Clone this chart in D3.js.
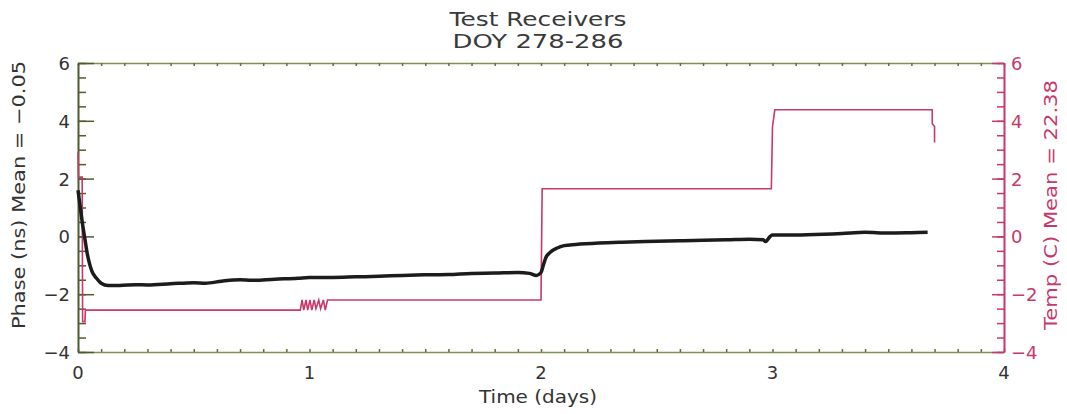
<!DOCTYPE html>
<html>
<head>
<meta charset="utf-8">
<script src="https://cdn.jsdelivr.net/npm/d3@7"></script>
<style>
  html, body { margin: 0; padding: 0; background: #fff; }
  svg { display: block; font-family: 'DejaVu Sans', sans-serif; }
  .title { fill: #3a3a3a; font-size: 19px; }
  .tick-label { font-size: 18px; }
</style>
</head>
<body>
<svg id="chart" width="1067" height="414"></svg>
<script>
// phase (ns), black trace
const phaseTime  = [0.000, 0.005, 0.010, 0.020, 0.030, 0.040, 0.050, 0.060, 0.080, 0.100,
                    0.130, 0.180, 0.250, 0.300, 0.400, 0.500, 0.550, 0.620, 0.700, 0.750,
                    0.850, 0.950, 1.000, 1.100, 1.200, 1.300, 1.400, 1.500, 1.600, 1.700,
                    1.800, 1.900, 1.950, 1.980, 2.000, 2.010, 2.020, 2.040, 2.070, 2.100,
                    2.150, 2.250, 2.350, 2.500, 2.600, 2.700, 2.800, 2.900, 2.960, 2.970,
                    2.990, 3.000, 3.050, 3.150, 3.300, 3.400, 3.500, 3.600, 3.670];
const phaseValue = [1.60, 1.30, 1.00, 0.40, -0.10, -0.60, -0.95, -1.20, -1.45, -1.62,
                    -1.70, -1.70, -1.67, -1.68, -1.64, -1.60, -1.62, -1.55, -1.50, -1.52,
                    -1.48, -1.45, -1.42, -1.42, -1.40, -1.38, -1.35, -1.33, -1.32, -1.28,
                    -1.27, -1.25, -1.28, -1.35, -1.25, -1.00, -0.75, -0.55, -0.40, -0.32,
                    -0.28, -0.23, -0.20, -0.17, -0.15, -0.13, -0.12, -0.10, -0.12, -0.18,
                    0.00, 0.05, 0.05, 0.06, 0.10, 0.14, 0.12, 0.13, 0.14];

// temperature (C, minus mean), crimson trace
const tempTime  = [0.000, 0.002, 0.018, 0.020, 0.030, 0.032, 0.960, 0.968, 0.975, 0.985,
                   0.992, 1.002, 1.010, 1.020, 1.028, 1.040, 1.048, 1.060, 1.068, 1.078,
                   1.090, 2.000, 2.005, 2.995, 3.000, 3.010, 3.690, 3.690, 3.700, 3.700];
const tempValue = [2.90, 2.05, 2.05, -2.95, -2.95, -2.55, -2.55, -2.20, -2.55, -2.20,
                   -2.55, -2.20, -2.55, -2.20, -2.50, -2.20, -2.50, -2.20, -2.55, -2.20,
                   -2.20, -2.20, 1.65, 1.65, 3.80, 4.38, 4.38, 3.90, 3.80, 3.25];

const yTicks      = [-4, -2, 0, 2, 4, 6];
const xTicks      = [0, 1, 2, 3, 4];
const titleLines  = ['Test Receivers', 'DOY 278-286'];
const xLabel      = 'Time (days)';
const yLabelLeft  = 'Phase (ns) Mean = \u22120.05';
const yLabelRight = 'Temp (C) Mean = 22.38';

const INK   = '#333';
const OLIVE = '#5f6f3a';
const RED   = '#c8386a';

const M = { left: 78, right: 1004, top: 63, bottom: 352 };

const svg = d3.select('#chart');

const x  = d3.scaleLinear().domain([0, 4]).range([M.left, M.right]);
const yL = d3.scaleLinear().domain([-4, 6]).range([M.bottom, M.top]);
const yR = d3.scaleLinear().domain([-4, 6]).range([M.bottom, M.top]);

// title, stretched to the width of the plotter font
svg.selectAll('.title')
  .data(titleLines)
  .enter().append('text')
    .attr('class', 'title')
    .attr('x', 538)
    .attr('y', (d, i) => 26 + i * 22)
    .attr('text-anchor', 'middle')
    .attr('textLength', (d, i) => i ? 171 : 177)
    .attr('lengthAdjust', 'spacingAndGlyphs')
    .text(d => d);

// frame: top / bottom in olive, right in red
const minorX = d3.range(0, 4.0001, 0.1);
const minorY = d3.range(-4, 6.0001, 0.5);

const drawHoriz = (yPos, dir) => {
  const g = svg.append('g').attr('transform', `translate(0,${yPos})`);
  const ax = (dir > 0 ? d3.axisBottom(x) : d3.axisTop(x))
    .tickValues(minorX).tickSize(-3).tickSizeOuter(0).tickFormat('');
  g.call(ax);
  g.select('.domain').attr('stroke', '#7d9150').attr('stroke-width', 1.5);
  g.selectAll('.tick line').attr('stroke', OLIVE).attr('stroke-width', 1.5);
  return g;
};
drawHoriz(M.bottom, 1);
drawHoriz(M.top, -1);

// bottom tick labels
svg.append('g').selectAll('text')
  .data(xTicks)
  .enter().append('text')
    .attr('class', 'tick-label')
    .attr('x', d => x(d))
    .attr('y', 379)
    .attr('text-anchor', 'middle')
    .attr('fill', INK)
    .text(d => d);

svg.append('text')
  .attr('class', 'tick-label')
  .attr('x', 538)
  .attr('y', 403)
  .attr('text-anchor', 'middle')
  .attr('textLength', 118)
  .attr('lengthAdjust', 'spacingAndGlyphs')
  .attr('fill', INK)
  .text(xLabel);

// vertical axes, ticks point into the plot
const drawVert = (scale, xPos, side, color, major, minor) => {
  const g = svg.append('g').attr('transform', `translate(${xPos},0)`);
  const make = side === 'left' ? d3.axisRight : d3.axisLeft;
  g.call(make(scale).tickValues(minorY).tickSize(minor).tickSizeOuter(0).tickFormat(''));
  g.append('g').call(make(scale).tickValues(yTicks).tickSize(major).tickSizeOuter(0).tickFormat(''));
  g.selectAll('.domain').attr('stroke', color).attr('stroke-width', 1.6);
  g.selectAll('.tick line').attr('stroke', color).attr('stroke-width', 1.5);
  return g;
};
drawVert(yL, M.left, 'left', '#4f5b30', 16, 8);
drawVert(yR, M.right, 'right', RED, 12, 7);

const fmt = d => d < 0 ? '\u2212' + Math.abs(d) : d;

// left labels
svg.append('g').selectAll('text')
  .data(yTicks)
  .enter().append('text')
    .attr('class', 'tick-label')
    .attr('x', 70)
    .attr('y', d => yL(d) + 7)
    .attr('text-anchor', 'end')
    .attr('fill', INK)
    .text(fmt);

// right labels
svg.append('g').selectAll('text')
  .data(yTicks)
  .enter().append('text')
    .attr('class', 'tick-label')
    .attr('x', 1011)
    .attr('y', d => yR(d) + 7)
    .attr('text-anchor', 'start')
    .attr('fill', RED)
    .text(fmt);

svg.append('text')
  .attr('class', 'tick-label')
  .attr('transform', 'translate(25,195) rotate(-90)')
  .attr('text-anchor', 'middle')
  .attr('textLength', 268)
  .attr('lengthAdjust', 'spacingAndGlyphs')
  .attr('fill', INK)
  .text(yLabelLeft);

svg.append('text')
  .attr('class', 'tick-label')
  .attr('transform', 'translate(1057,205) rotate(-90)')
  .attr('text-anchor', 'middle')
  .attr('textLength', 250)
  .attr('lengthAdjust', 'spacingAndGlyphs')
  .attr('fill', RED)
  .text(yLabelRight);

// traces
const tempLine = d3.line()
  .x(d => x(d[0]))
  .y(d => yR(d[1]));
svg.append('path')
  .datum(d3.zip(tempTime, tempValue))
  .attr('fill', 'none')
  .attr('stroke', RED)
  .attr('stroke-width', 1.6)
  .attr('d', tempLine);

const phaseLine = d3.line()
  .curve(d3.curveMonotoneX)
  .x(d => x(d[0]))
  .y(d => yL(d[1]));
svg.append('path')
  .datum(d3.zip(phaseTime, phaseValue))
  .attr('fill', 'none')
  .attr('stroke', '#1c1c1c')
  .attr('stroke-width', 3.5)
  .attr('stroke-linejoin', 'round')
  .attr('d', phaseLine);
</script>
</body>
</html>
